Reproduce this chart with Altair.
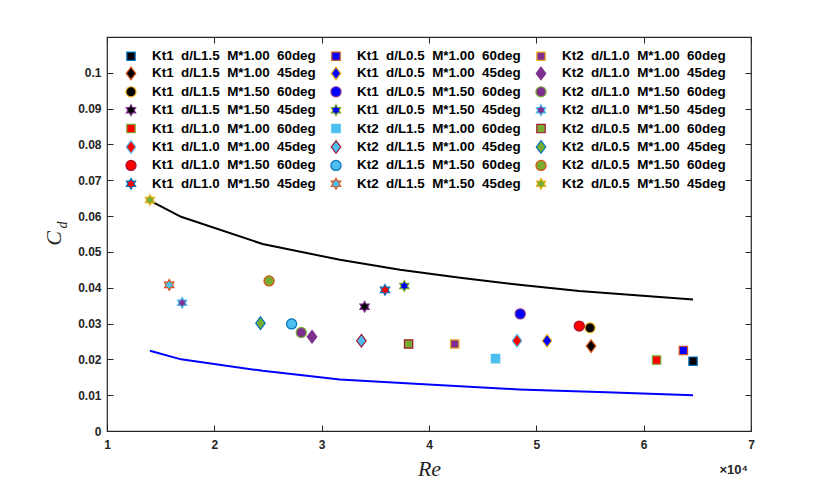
import altair as alt
import pandas as pd

# ---------------- data ----------------
kt = ["Kt1"] * 12 + ["Kt2"] * 12
dl = (["1.5"] * 4 + ["1.0"] * 4 + ["0.5"] * 4) * 2
mstar = ["1.00", "1.00", "1.50", "1.50"] * 6
angle = ["60", "45", "60", "45"] * 6

# Re in units of 10^4, Cd
re_e4 = [6.46, 5.51, 5.50, 3.40, 6.12, 4.82, 5.40, 3.59, 6.37, 5.10, 4.85, 3.77,
         4.62, 3.37, 2.72, 1.58, 4.24, 2.91, 2.81, 1.70, 3.81, 2.43, 2.51, 1.40]
cd = [0.0195, 0.0237, 0.0288, 0.0347, 0.0198, 0.0252, 0.0293, 0.0394, 0.0225, 0.0252, 0.0327, 0.0405,
      0.0202, 0.0252, 0.0299, 0.0408, 0.0243, 0.0263, 0.0275, 0.0358, 0.0243, 0.0301, 0.0419, 0.0645]

marker = ["square", "diamond", "circle", "hexagram"] * 6
fill_colors = (["#000000"] * 4 + ["#FF0000"] * 4 + ["#0000FF"] * 4 +
               ["#4DBEEE"] * 4 + ["#7E2F8E"] * 4 + ["#77AC30"] * 4)
edge_colors = ["#0072BD", "#D95319", "#EDB120", "#7E2F8E", "#77AC30", "#4DBEEE", "#A2142F",
               "#0072BD", "#D95319", "#EDB120", "#7E2F8E", "#77AC30", "#4DBEEE", "#A2142F",
               "#0072BD", "#D95319", "#EDB120", "#7E2F8E", "#77AC30", "#4DBEEE", "#A2142F",
               "#0072BD", "#D95319", "#EDB120"]

# upper (black) and lower (blue) curves
upper_re = [1.40, 1.69, 2.45, 3.17, 3.73, 4.29, 4.84, 5.40, 5.96, 6.46]
upper_cd = [0.0643, 0.0598, 0.0522, 0.0478, 0.0450, 0.0428, 0.0408, 0.0391, 0.0378, 0.0367]
lower_re = [1.40, 1.69, 2.45, 3.17, 3.91, 4.84, 5.65, 6.46]
lower_cd = [0.0224, 0.0200, 0.0168, 0.0144, 0.0131, 0.0116, 0.0108, 0.0100]

x_ticks = [1, 2, 3, 4, 5, 6, 7]
y_ticks = [0, 0.01, 0.02, 0.03, 0.04, 0.05, 0.06, 0.07, 0.08, 0.09, 0.1]

# ---------------- styling helpers ----------------
W, H = 644, 394
SYM = 160  # common symbol box; each path is drawn at its own size inside it
sp = "\u00a0\u00a0"
labels = [f"{k}{sp}d/L{d}{sp}M*{m}{sp}{a}deg" for k, d, m, a in zip(kt, dl, mstar, angle)]

shape_paths = {
    "square": "M-0.66,-0.66L0.66,-0.66L0.66,0.66L-0.66,0.66Z",
    "circle": "M0.8,0A0.8,0.8,0,1,1,-0.8,0A0.8,0.8,0,1,1,0.8,0Z",
    "diamond": "M0,-1L0.75,0L0,1L-0.75,0Z",
    "hexagram": ("M0,-0.85L0.2454,-0.425L0.7361,-0.425L0.4908,0L0.7361,0.425L0.2454,0.425L0,0.85"
                 "L-0.2454,0.425L-0.7361,0.425L-0.4908,0L-0.7361,-0.425L-0.2454,-0.425Z"),
}

dom = labels  # the legend fills column by column, as in the reference
shape_rng = [shape_paths[m] for m in marker]

pts = pd.DataFrame({"series": labels, "re": re_e4, "cd": cd})
up = pd.DataFrame({"re": upper_re, "cd": upper_cd})
lo = pd.DataFrame({"re": lower_re, "cd": lower_cd})

xs = alt.Scale(domain=[1, 7], nice=False, zero=False)
ys = alt.Scale(domain=[0, 0.11], nice=False, zero=False)

AX = "#262626"
lab = dict(labelFont="Liberation Sans", labelFontWeight="bold", labelFontSize=12,
           labelColor=AX, grid=False, domain=False, labelFlush=False, labelOverlap=False)

leg = alt.Legend(orient="none", legendX=17, legendY=11, columns=3, columnPadding=12,
                 rowPadding=0.4, gridAlign="all", padding=0, title=None,
                 labelFont="Liberation Sans", labelFontWeight="bold", labelFontSize=13.4,
                 labelColor="#000000", labelOffset=14, labelLimit=400,
                 symbolSize=SYM, symbolStrokeWidth=1.2, symbolOpacity=1)

points = alt.Chart(pts).mark_point(opacity=1, fillOpacity=1, strokeWidth=1.2, size=SYM).encode(
    x=alt.X("re:Q", scale=xs, axis=alt.Axis(
        orient="bottom", values=x_ticks, format="d", ticks=False, tickSize=0, labelPadding=8,
        title="Re", titleFont="Liberation Serif", titleFontStyle="italic",
        titleFontWeight="normal", titleFontSize=22, titleColor=AX,
        titleX=W / 2, titleY=44, titleBaseline="alphabetic", titleAlign="center", **lab)),
    y=alt.Y("cd:Q", scale=ys, axis=alt.Axis(
        orient="left", values=y_ticks, format=".2~f", ticks=False, tickSize=0, labelPadding=6,
        title="C", titleFont="Liberation Serif", titleFontStyle="italic",
        titleFontWeight="normal", titleFontSize=22, titleColor=AX, titleAngle=270,
        titleX=-47, titleY=201, titleBaseline="alphabetic", titleAlign="center", **lab)),
    shape=alt.Shape("series:N", scale=alt.Scale(domain=dom, range=shape_rng), legend=leg),
    fill=alt.Fill("series:N", scale=alt.Scale(domain=dom, range=fill_colors), legend=leg),
    stroke=alt.Stroke("series:N", scale=alt.Scale(domain=dom, range=edge_colors), legend=leg),
)

tick_ax = dict(labels=False, domain=False, grid=False, ticks=True, tickSize=6,
               tickColor=AX, tickWidth=1, title=None)

upper = alt.Chart(up).mark_line(color="#000000", strokeWidth=2).encode(
    x=alt.X("re:Q", scale=xs, axis=alt.Axis(orient="top", offset=-H, values=x_ticks, **tick_ax)),
    y=alt.Y("cd:Q", scale=ys, axis=alt.Axis(orient="right", offset=-W, values=y_ticks, **tick_ax)),
)
lower = alt.Chart(lo).mark_line(color="#0000FF", strokeWidth=2).encode(
    x=alt.X("re:Q", scale=xs, axis=alt.Axis(orient="bottom", offset=-H, values=x_ticks, **tick_ax)),
    y=alt.Y("cd:Q", scale=ys, axis=alt.Axis(orient="left", offset=-W, values=y_ticks, **tick_ax)),
)

exp_txt = alt.Chart(pd.DataFrame({"t": ["\u00d710\u2074"]})).mark_text(
    font="Liberation Sans", fontWeight="bold", fontSize=13, color=AX,
    align="right", baseline="alphabetic").encode(
    text="t:N", x=alt.value(641), y=alt.value(437))

sub_txt = alt.Chart(pd.DataFrame({"t": ["d"]})).mark_text(
    font="Liberation Serif", fontStyle="italic", fontSize=14, color=AX,
    angle=270, align="center", baseline="alphabetic").encode(
    text="t:N", x=alt.value(-40), y=alt.value(188))

chart = alt.layer(upper, lower, points, exp_txt, sub_txt).resolve_axis(
    x="independent", y="independent"
).properties(
    width=W, height=H,
    autosize=alt.AutoSizeParams(type="none"),
    padding={"left": 99, "top": 29, "right": 40, "bottom": 62},
    background="white",
).configure_view(stroke=AX, strokeWidth=1.2)

chart.save("out.html", embed_options={"renderer": "svg", "actions": False})
